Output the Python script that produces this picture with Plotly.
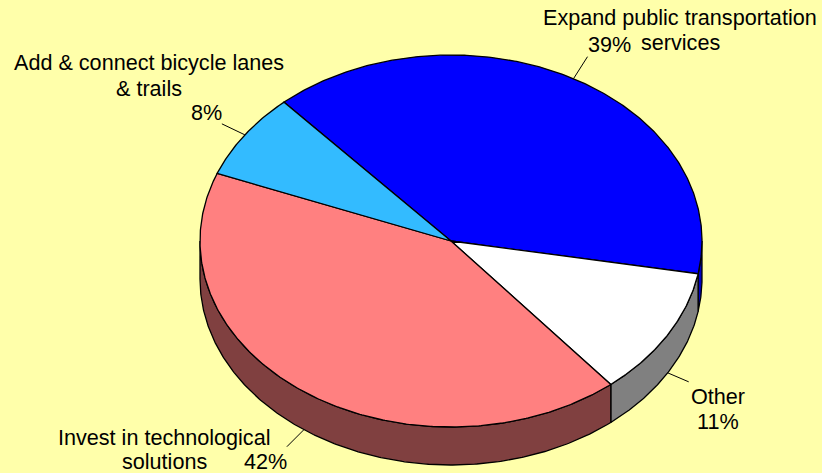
import numpy as np
import plotly.graph_objects as go

# Data
categories = ["Expand public transportation services", "Other",
              "Invest in technological solutions", "Add & connect bicycle lanes & trails"]
values = [39.4, 11.2, 41.9, 7.5]
pct_labels = ["39%", "11%", "42%", "8%"]
top_colors = ["#0000FF", "#FFFFFF", "#FF8080", "#33BBFF"]
side_colors = ["#0000C0", "#808080", "#804040", "#1A5E80"]

# Label layout: text, centre x, centre y
name_lines = [
    [("Expand public transportation", 680, 17), ("services", 680, 42)],
    [("Other", 718, 396)],
    [("Invest in technological", 164, 437), ("solutions", 164, 461)],
    [("Add &amp; connect bicycle lanes", 149, 62), ("&amp; trails", 149, 88)],
]
pct_pos = [(609, 44), (718, 421), (265, 461), (206, 112)]
leader_off = [(14, -22), (21, 9), (-17, 17), (-23, -11)]

# Pie geometry
W, H = 822, 473
CX, CY, RX, RY, DEPTH = 451, 241, 251, 186, 38
START = 318.3
BG = "#FFFFAA"
EDGE = dict(color="black", width=1.3)


def pt(t, drop=0.0):
    r = np.radians(t)
    return CX + RX * np.sin(r), CY - RY * np.cos(r) + drop


def arc(a, b, drop=0.0):
    ts = np.linspace(a, b, max(int(abs(b - a) * 2), 2))
    return pt(ts, drop)


fig = go.Figure()


def poly(xs, ys, color):
    fig.add_trace(go.Scatter(x=list(xs), y=list(ys), mode="lines", fill="toself",
                             fillcolor=color, line=EDGE, hoverinfo="skip",
                             showlegend=False))


spans = []
a = START
for v in values:
    b = a + v * 3.6
    spans.append((a, b))
    a = b

# Visible rim: the front half of the ellipse, between 90 and 270 degrees
for (a, b), col in zip(spans, side_colors):
    for shift in (0, 360):
        lo, hi = max(a - shift, 90), min(b - shift, 270)
        if hi > lo:
            x1, y1 = arc(lo, hi)
            x2, y2 = arc(hi, lo, DEPTH)
            poly(np.r_[x1, x2, x1[0]], np.r_[y1, y2, y1[0]], col)

# Top face
for (a, b), col in zip(spans, top_colors):
    x, y = arc(a, b)
    poly(np.r_[CX, x, CX], np.r_[CY, y, CY], col)

# Leader lines and labels
ann = []
for (a, b), off, names, pct, pos in zip(spans, leader_off, name_lines, pct_labels, pct_pos):
    mid = (a + b) / 2
    on_front = 90 <= (mid % 360) <= 270
    x0, y0 = pt(mid, DEPTH if on_front else 0)
    fig.add_trace(go.Scatter(x=[x0, x0 + off[0]], y=[y0, y0 + off[1]], mode="lines",
                             line=dict(color="black", width=1), hoverinfo="skip",
                             showlegend=False))
    for text, tx, ty in names + [(pct, pos[0], pos[1])]:
        ann.append(dict(x=tx, y=ty, xref="x", yref="y", text=text, showarrow=False,
                        xanchor="center", yanchor="middle",
                        font=dict(family="Liberation Sans", size=21.6, color="black")))

fig.update_layout(
    width=W, height=H, margin=dict(l=0, r=0, t=0, b=0),
    paper_bgcolor=BG, plot_bgcolor=BG, showlegend=False, annotations=ann,
    xaxis=dict(range=[0, W], visible=False, fixedrange=True),
    yaxis=dict(range=[H, 0], visible=False, fixedrange=True),
)
fig.write_html("out.html", config=dict(displayModeBar=False),
               post_script="document.body.style.margin='0';document.body.style.overflow='hidden';"
                           "document.documentElement.style.background='" + BG + "';")
